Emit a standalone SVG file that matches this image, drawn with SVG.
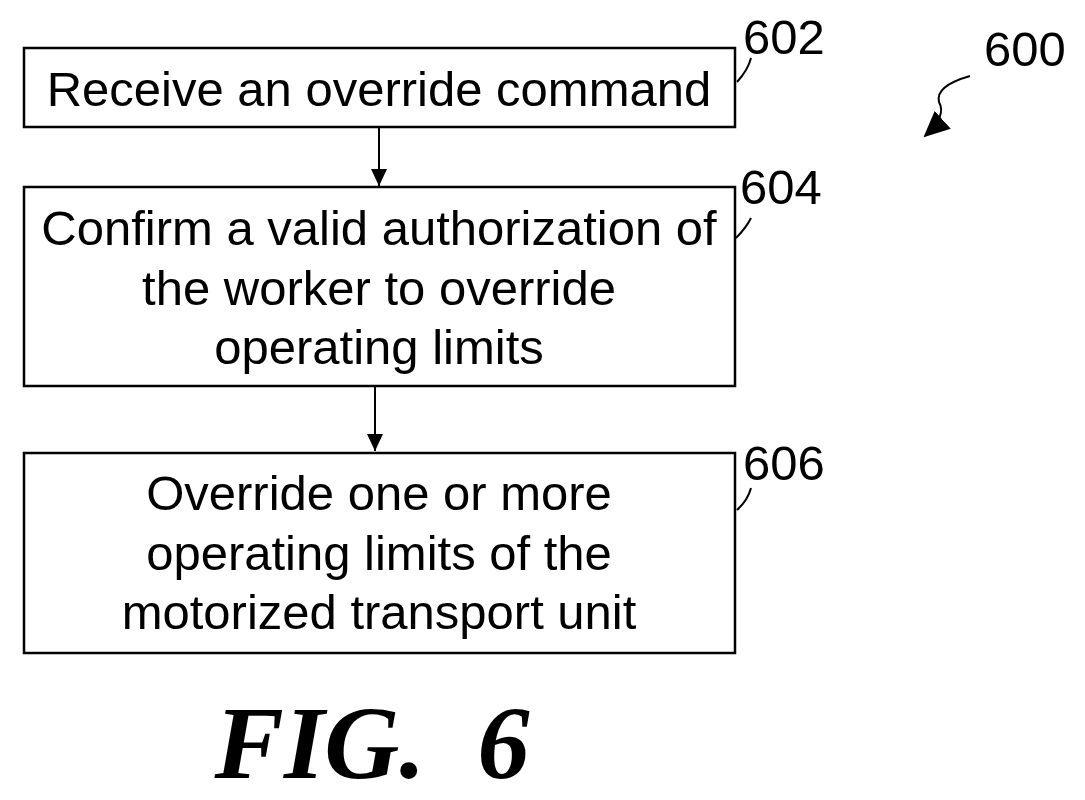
<svg xmlns="http://www.w3.org/2000/svg" width="1085" height="800" viewBox="0 0 1085 800">
<style>
.b{fill:none;stroke:#000;stroke-width:2.5}
.t{font-family:"Liberation Sans",Arial,sans-serif;font-size:49px;text-anchor:middle}
.n{font-family:"Liberation Sans",Arial,sans-serif;font-size:49px}
.l{fill:none;stroke:#000;stroke-width:2}
</style>
<defs><marker id="a" markerWidth="18" markerHeight="18" refX="17" refY="8" orient="auto" markerUnits="userSpaceOnUse"><path d="M0,0L17,8L0,16z"/></marker>
<marker id="a2" markerWidth="26" markerHeight="24" refX="24" refY="12" orient="auto" markerUnits="userSpaceOnUse"><path d="M0,0L26,12L0,24z"/></marker></defs>
<rect width="1085" height="800" fill="#fff"/>
<g id="n602"><rect class="b" x="24" y="48" width="711" height="79"/><text class="t" x="379" y="106">Receive an override command</text>
<path class="l" d="M737,82 Q748,70 751,58"/><text class="n" x="743" y="54">602</text></g>
<g id="n604"><rect class="b" x="24" y="187" width="711" height="199"/><text class="t" x="379" y="245">Confirm a valid authorization of</text><text class="t" x="379" y="305">the worker to override</text><text class="t" x="379" y="364">operating limits</text>
<path class="l" d="M736,238 Q746,228 751,218"/><text class="n" x="740" y="204">604</text></g>
<g id="n606"><rect class="b" x="24" y="453" width="711" height="200"/><text class="t" x="379" y="510">Override one or more</text><text class="t" x="379" y="570">operating limits of the</text><text class="t" x="379" y="629">motorized transport unit</text>
<path class="l" d="M737,510 Q748,500 751,488"/><text class="n" x="743" y="480">606</text></g>
<g id="n600"><text class="n" x="984" y="66">600</text>
<path class="l" d="M970,76 Q935,86 939,102 Q947,116 925,136" marker-end="url(#a2)"/></g>
<g id="connectors"><line class="l" x1="379" y1="128" x2="379" y2="186" marker-end="url(#a)"/><line class="l" x1="375" y1="387" x2="375" y2="451" marker-end="url(#a)"/></g>
<text x="372" y="778" style="font-family:'Liberation Serif',serif;font-size:104px;font-weight:bold;font-style:italic" text-anchor="middle" xml:space="preserve">FIG.  6</text>
</svg>
